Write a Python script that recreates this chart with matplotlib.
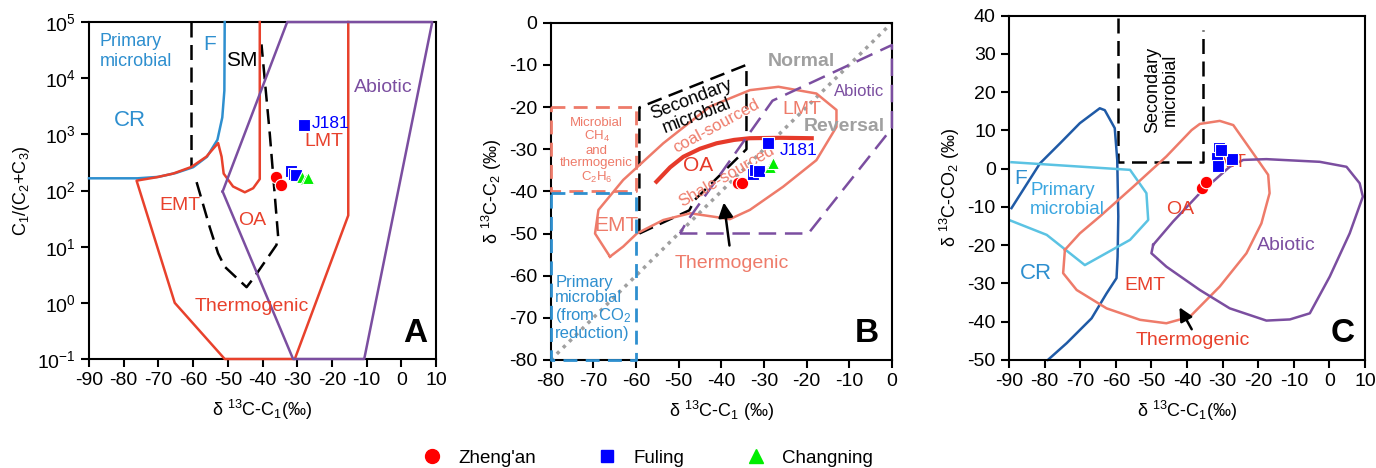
import numpy as np
import matplotlib
matplotlib.use("Agg")
import matplotlib.pyplot as plt
from matplotlib.lines import Line2D

plt.rcParams["font.family"] = ["Liberation Sans", "DejaVu Sans"]
plt.rcParams["mathtext.fontset"] = "custom"
plt.rcParams["mathtext.rm"] = "Liberation Sans"
plt.rcParams["mathtext.default"] = "regular"
plt.rcParams["axes.unicode_minus"] = False

RED = "#e8412c"
SALMON = "#ee7b6a"
BLUE = "#2e8fcf"
LIGHT_BLUE = "#5bc3e3"
DARK_BLUE = "#1f5aa6"
PURPLE = "#7b4ea0"
GRAY = "#a0a0a0"

# ---- panel A: C1/(C2+C3) vs d13C-C1 ----
a_blue_x = [-90, -76, -70, -65, -60, -56, -53, -51.6, -51, -50.9]
a_blue_y = [165, 165, 175, 205, 260, 400, 800, 2000, 6000, 1e5]
a_red_x = [-40.8, -40.8, -42.7, -45.1, -48.5, -51.2, -51.8, -52.8, -56.2, -60.5,
           -65.8, -70.6, -76.3, -65.3, -50.9, -30.7, -15.3, -15.3]
a_red_y = [1e5, 160, 110, 93, 118, 200, 400, 700, 400, 263,
           200, 172, 150, 1.0, 0.1, 0.1, 36, 1e5]
a_abiotic_x = [-51.5, -32.9, 8.9, -10.7, -31.2, -51.5]
a_abiotic_y = [96, 1e5, 1e5, 0.1, 0.1, 96]
a_sm_left_x = [-60.5, -60.5]
a_sm_left_y = [1e5, 263]
a_sm_x = [-59, -55.2, -52.8, -50.9, -44.6, -42.5, -36, -35.5, -37.9, -40.3]
a_sm_y = [141, 22, 7.6, 4.4, 1.9, 2.8, 10.7, 15, 1000, 4e4]

a_zhengan_x = [-36, -34.7]
a_zhengan_y = [174, 126]
a_fuling_x = [-28, -31.8, -31.0, -30.3]
a_fuling_y = [1450, 220, 200, 190]
a_changning_x = [-28.5, -27.5, -27]
a_changning_y = [175, 160, 170]

# ---- panel B: d13C-C2 vs d13C-C1 ----
b_thermo_x = [-66.1, -69.6, -68.8, -63, -53.6, -42.7, -33.3, -26.6, -17.7, -13, -13,
              -17.7, -25.5, -33.3, -38, -41.9, -47.3, -53.6, -59.8, -63, -66.1]
b_thermo_y = [-55.5, -50, -44.4, -37.3, -28.6, -19.9, -16, -15.2, -16.8, -20.7, -24.7,
              -32.6, -38.9, -44.4, -46.6, -46, -45.2, -46.8, -50, -53.1, -55.5]
b_split_x = [-55.2, -52, -48.9, -45, -41.1, -37, -33.3, -26, -18.8]
b_split_y = [-37.7, -34.3, -31.8, -29.9, -28.6, -27.8, -27.4, -27.3, -27.4]
b_secondary_x = [-59.2, -59.2, -34.1, -34.1, -46.2, -47.5, -59.2]
b_secondary_y = [-50, -20.1, -10, -30, -42, -44.5, -50]
b_abiotic_x = [-49.7, -19.6, 0, 0, -28, -48.1, -49.7]
b_abiotic_y = [-50, -50, -25, -5.3, -18.5, -47.2, -50]
b_mixed_x = [-80, -60, -60, -80]
b_mixed_y = [-20, -20, -40, -40]
b_primary_x = [-80, -60, -60, -80]
b_primary_y = [-40.5, -40.5, -80, -80]
b_diag = [-80, 0]

b_zhengan_x = [-36, -35.2]
b_zhengan_y = [-38.1, -38.1]
b_fuling_x = [-32.5, -32.0, -31.2, -29]
b_fuling_y = [-35.8, -34.9, -35.2, -28.6]
b_changning_x = [-28.5, -27.8]
b_changning_y = [-34.3, -33.3]

# ---- panel C: d13C-CO2 vs d13C-C1 ----
c_cr_x = [-89.3, -81.3, -75.7, -70.1, -64.5, -63.1, -60.3, -59.6, -59.3, -59.5,
          -59.8, -62.6, -66.8, -73.8, -79.1]
c_cr_y = [-10.3, 1.4, 6.6, 11.9, 15.8, 15.3, 10.6, 2.3, -12.5, -23,
          -28.6, -32.6, -39.1, -45.6, -50]
c_primary_x = [-89.3, -56, -51.4, -50.9, -56, -68.7, -79.4, -90]
c_primary_y = [1.7, -0.3, -6.4, -13.4, -18.6, -25.2, -17.3, -13.4]
c_thermo_x = [-74.3, -74.8, -71, -62.6, -53.2, -45.8, -39.2, -30.8, -23.3, -19.1,
              -16.8, -17.2, -21.4, -27, -30.8, -36.4, -38.7, -45.8, -55.1, -64.5,
              -70.1, -74.3]
c_thermo_y = [-21.2, -27.3, -31.7, -36.5, -39.5, -40.4, -38.7, -30.8, -22.1, -14.3,
              -6.4, -1.6, 4, 11.4, 12.5, 11.7, 10.1, 3.2, -4.7, -12.5,
              -16.9, -21.2]
c_abiotic_x = [-49.5, -50, -45.8, -36.4, -28, -17.7, -11.1, -5.5, 0.1, 5.7,
               9.4, 8.5, 4.8, -2.7, -17.7, -24.2, -28, -36.4, -43.9, -49.5]
c_abiotic_y = [-19.9, -22.1, -25.6, -31.7, -36.5, -39.7, -39.4, -37.8, -28.2, -16.9,
               -7.3, -3.8, 0.5, 1.8, 2.5, 2.3, 0.5, -6.4, -13.8, -19.9]
c_secondary_x = [-59.3, -59.3, -35.5, -35.5]
c_secondary_y = [39.3, 1.7, 1.7, 36.3]

c_zhengan_x = [-35.9, -34.7]
c_zhengan_y = [-5.1, -3.6]
c_fuling_x = [-31, -31.5, -31.3, -27.5, -30.5]
c_fuling_y = [5.5, 2.7, 0.8, 2.5, 4.8]

xlabel_c1 = r"δ $^{13}$C-C$_1$(‰)"


def style_axes(ax):
    for sp in ax.spines.values():
        sp.set_linewidth(1.5)
    ax.tick_params(which="major", direction="out", length=6, width=1.5,
                   labelsize=14, top=False, right=False)
    ax.tick_params(which="minor", length=0)


def samples(ax, xs, ys, marker, color, size):
    ax.plot(xs, ys, ls="none", marker=marker, ms=size, mfc=color,
            mec="white", mew=0.8, zorder=5)


fig = plt.figure(figsize=(13.76, 4.68), dpi=100)
axA = fig.add_axes([0.0647, 0.2329, 0.2522, 0.720])
axB = fig.add_axes([0.4002, 0.2308, 0.2480, 0.7207])
axC = fig.add_axes([0.7333, 0.2308, 0.2587, 0.7357])

# panel A
ax = axA
ax.set_yscale("log")
lw = 1.8
ax.plot(a_blue_x, a_blue_y, color=BLUE, lw=lw, clip_on=False, zorder=3)
ax.plot(a_red_x, a_red_y, color=RED, lw=lw, clip_on=False, zorder=3)
ax.plot(a_abiotic_x, a_abiotic_y, color=PURPLE, lw=lw, clip_on=False, zorder=3)
ax.plot(a_sm_left_x, a_sm_left_y, color="k", lw=lw, dashes=(6, 3))
ax.plot(a_sm_x, a_sm_y, color="k", lw=lw, dashes=(6, 3))
samples(ax, a_zhengan_x, a_zhengan_y, "o", "red", 9)
samples(ax, a_fuling_x, a_fuling_y, "s", "blue", 8.5)
samples(ax, a_changning_x, a_changning_y, "^", "#00ee00", 9)
ax.text(-87, 3.0e4, "Primary\nmicrobial", color=BLUE, fontsize=13, ha="left", va="center")
ax.text(-55.2, 4.0e4, "F", color=BLUE, fontsize=15, ha="center", va="center")
ax.text(-46, 2.1e4, "SM", color="k", fontsize=15, ha="center", va="center")
ax.text(-78.3, 1780, "CR", color=BLUE, fontsize=16, ha="center", va="center")
ax.text(-13.8, 6760, "Abiotic", color=PURPLE, fontsize=14, ha="left", va="center")
ax.text(-25.7, 1550, "J181", color="blue", fontsize=12.5, ha="left", va="center")
ax.text(-22.2, 740, "LMT", color=RED, fontsize=14, ha="center", va="center")
ax.text(-63.8, 55, "EMT", color=RED, fontsize=14, ha="center", va="center")
ax.text(-43, 29.5, "OA", color=RED, fontsize=14, ha="center", va="center")
ax.text(-43.2, 0.85, "Thermogenic", color=RED, fontsize=14, ha="center", va="center")
ax.text(4, 0.29, "A", color="k", fontsize=24, fontweight="bold", ha="center", va="center")
ax.set_xlim(-90, 10)
ax.set_ylim(0.1, 1e5)
ax.set_xticks(np.arange(-90, 11, 10))
ax.set_yticks([1e-1, 1e0, 1e1, 1e2, 1e3, 1e4, 1e5])
ax.set_xlabel(xlabel_c1, fontsize=13, labelpad=6)
ax.set_ylabel(r"C$_1$/(C$_2$+C$_3$)", fontsize=13)
style_axes(ax)

# panel B
ax = axB
ax.plot(b_diag, b_diag, color=GRAY, lw=2.5, ls=(0, (1, 1.5)))
ax.plot(b_mixed_x + [b_mixed_x[0]], b_mixed_y + [b_mixed_y[0]], color=SALMON, lw=2,
        dashes=(5, 3), clip_on=False, zorder=3)
ax.plot(b_primary_x + [b_primary_x[0]], b_primary_y + [b_primary_y[0]], color=BLUE, lw=2,
        dashes=(5, 3), clip_on=False, zorder=3)
ax.plot(b_secondary_x, b_secondary_y, color="k", lw=1.8, dashes=(6, 3))
ax.plot(b_abiotic_x, b_abiotic_y, color=PURPLE, lw=1.8, dashes=(7, 3.5), clip_on=False, zorder=3)
ax.plot(b_thermo_x, b_thermo_y, color=SALMON, lw=1.8)
ax.plot(b_split_x, b_split_y, color="#e63a2a", lw=3)
ax.annotate("", xy=(-39.5, -42), xytext=(-38, -53.5),
            arrowprops=dict(arrowstyle="-|>", color="k", lw=1.8, mutation_scale=22))
samples(ax, b_zhengan_x, b_zhengan_y, "o", "red", 9)
samples(ax, b_fuling_x, b_fuling_y, "s", "blue", 8.5)
samples(ax, b_changning_x, b_changning_y, "^", "#00ee00", 9)
ax.text(-21.2, -9.3, "Normal", color=GRAY, fontsize=14, fontweight="bold", ha="center", va="center")
ax.text(-7.7, -16.4, "Abiotic", color=PURPLE, fontsize=12, ha="center", va="center")
ax.text(-11.2, -24.7, "Reversal", color=GRAY, fontsize=14, fontweight="bold", ha="center", va="center")
ax.text(-21.2, -20.7, "LMT", color=SALMON, fontsize=14, ha="center", va="center")
ax.text(-46.4, -20.1, "Secondary\nmicrobial", color="k", fontsize=13, rotation=21,
        rotation_mode="anchor", ha="center", va="center", linespacing=1.0)
ax.text(-41.1, -24.5, "coal-sourced", color=SALMON, fontsize=12, rotation=28.5,
        rotation_mode="anchor", ha="center", va="center")
ax.text(-38.75, -36.5, "Shale-sourced", color=SALMON, fontsize=12, rotation=30,
        rotation_mode="anchor", ha="center", va="center")
ax.text(-45.4, -33.8, "OA", color="#e63a2a", fontsize=15, ha="center", va="center")
ax.text(-26.2, -30.2, "J181", color="blue", fontsize=12.5, ha="left", va="center")
ax.text(-64.5, -48, "EMT", color=SALMON, fontsize=15, ha="center", va="center")
ax.text(-37.6, -57.1, "Thermogenic", color=SALMON, fontsize=14, ha="center", va="center")
ax.text(-69.2, -30.4, "Microbial\nCH$_4$\nand\nthermogenic\nC$_2$H$_6$", color=SALMON,
        fontsize=9.5, ha="center", va="center", linespacing=1.05)
ax.text(-78.9, -67.6, "Primary\nmicrobial\n(from CO$_2$\nreduction)", color=BLUE,
        fontsize=12, ha="left", va="center", linespacing=1.05)
ax.text(-5.9, -73.7, "B", color="k", fontsize=24, fontweight="bold", ha="center", va="center")
ax.set_xlim(-80, 0)
ax.set_ylim(-80, 0)
ax.set_xticks(np.arange(-80, 1, 10))
ax.set_yticks(np.arange(-80, 1, 10))
ax.set_xlabel(r"δ $^{13}$C-C$_1$ (‰)", fontsize=13, labelpad=6)
ax.set_ylabel(r"δ $^{13}$C-C$_2$ (‰)", fontsize=13)
style_axes(ax)

# panel C
ax = axC
ax.plot(c_secondary_x, c_secondary_y, color="k", lw=1.8, dashes=(6, 3))
ax.plot(c_cr_x, c_cr_y, color=DARK_BLUE, lw=1.8, clip_on=False)
ax.plot(c_primary_x, c_primary_y, color=LIGHT_BLUE, lw=1.8)
ax.plot(c_thermo_x, c_thermo_y, color=SALMON, lw=1.8)
ax.plot(c_abiotic_x, c_abiotic_y, color=PURPLE, lw=1.8)
ax.annotate("", xy=(-42.5, -35.6), xytext=(-38.3, -42.6),
            arrowprops=dict(arrowstyle="-|>", color="k", lw=1.8, mutation_scale=20))
samples(ax, c_zhengan_x, c_zhengan_y, "o", "red", 9)
samples(ax, c_fuling_x, c_fuling_y, "s", "blue", 8.5)
ax.text(-47.2, 20.6, "Secondary\nmicrobial", color="k", fontsize=13, rotation=90,
        ha="center", va="center", linespacing=1.1)
ax.text(-86.7, -2.5, "F", color=BLUE, fontsize=15, ha="center", va="center")
ax.text(-84.1, -8.2, "Primary\nmicrobial", color="#3aa6e0", fontsize=13.5, ha="left",
        va="center", linespacing=1.1)
ax.text(-82.4, -27.3, "CR", color=BLUE, fontsize=16, ha="center", va="center")
ax.text(-42, -10.6, "OA", color=RED, fontsize=14, ha="center", va="center")
ax.text(-51.8, -30.6, "EMT", color=RED, fontsize=14, ha="center", va="center")
ax.text(-28.4, 1.6, "LMT", color=RED, fontsize=13, ha="center", va="center")
ax.text(-12.1, -20.1, "Abiotic", color=PURPLE, fontsize=14, ha="center", va="center")
ax.text(-38.3, -44.9, "Thermogenic", color=RED, fontsize=14, ha="center", va="center")
ax.text(3.8, -43, "C", color="k", fontsize=24, fontweight="bold", ha="center", va="center")
ax.set_xlim(-90, 10)
ax.set_ylim(-50, 40)
ax.set_xticks(np.arange(-90, 11, 10))
ax.set_yticks(np.arange(-50, 41, 10))
ax.set_xlabel(xlabel_c1, fontsize=13, labelpad=6)
ax.set_ylabel(r"δ $^{13}$C-CO$_2$ (‰)", fontsize=13)
style_axes(ax)

# shared legend
handles = [
    Line2D([], [], ls="none", marker="o", ms=10, mfc="red", mec="red"),
    Line2D([], [], ls="none", marker="s", ms=9, mfc="blue", mec="blue"),
    Line2D([], [], ls="none", marker="^", ms=10, mfc="#00ee00", mec="#00ee00"),
]
fig.legend(handles, ["Zheng'an", "Fuling", "Changning"], loc="center",
           bbox_to_anchor=(0.47, 0.021), ncol=3, frameon=False, fontsize=13.5,
           columnspacing=3.2, handletextpad=0.8, handlelength=1.2)

fig.savefig("out.png", dpi=100)
